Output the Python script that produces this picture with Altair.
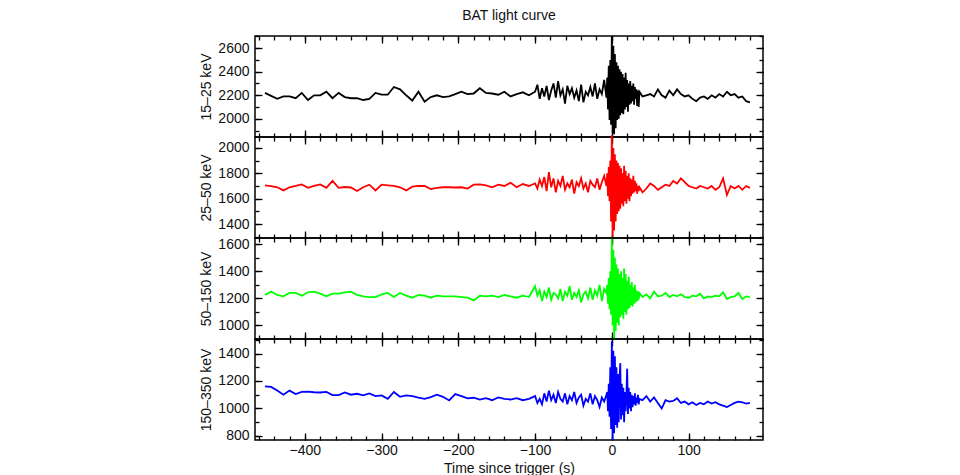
import altair as alt
import pandas as pd

# ---- time bins (s since trigger) ----
time_pre = [-452, -444, -436, -428, -420, -412, -404, -396, -388, -380, -372, -364, -356, -348,
            -340, -332, -324, -316, -308, -300, -292, -284, -276, -268, -260, -252, -244, -236,
            -228, -220, -212, -204, -196, -188, -180, -172, -164, -156, -148, -140, -132, -124,
            -116, -108]
time_rise = [-100, -97, -94, -91, -88, -85, -82, -79, -76, -73, -70, -67, -64, -61, -58, -55,
             -52, -49, -46, -43, -40, -37, -34, -31, -28, -25, -22, -19, -16, -13, -10, -7]
time_burst = [-6, -5, -4, -3, -2, -1, 0, 1, 2, 3, 4, 5, 6, 7, 8, 9, 10, 11, 12, 13, 14, 15, 16,
              17, 18, 19, 20, 21, 22, 23, 24, 25, 26, 27, 28, 29, 30, 31, 32, 33, 34, 35, 36]
time_post = [40, 45, 50, 55, 60, 65, 70, 75, 80, 85, 90, 95, 100, 105, 110, 115, 120, 125, 130,
             135, 140, 145, 150, 155, 160, 165, 170, 175, 180]

# ---- 15-25 keV ----
band1_pre = [2220, 2195, 2170, 2190, 2190, 2175, 2220, 2160, 2200, 2200, 2230, 2175, 2220, 2185,
             2175, 2175, 2160, 2170, 2220, 2205, 2205, 2270, 2250, 2200, 2155, 2230, 2145, 2185,
             2200, 2185, 2190, 2210, 2230, 2210, 2215, 2260, 2220, 2215, 2205, 2230, 2190, 2210,
             2225, 2200]
band1_rise = [2230, 2290, 2170, 2260, 2190, 2280, 2160, 2240, 2300, 2180, 2320, 2200, 2250, 2130,
              2280, 2210, 2260, 2180, 2240, 2150, 2290, 2140, 2230, 2200, 2270, 2190, 2300, 2170,
              2250, 2210, 2330, 2180]
band1_burst = [2350, 2080, 2450, 1990, 2500, 1950, 2700, 1880, 2620, 1870, 2550, 1920, 2480, 1990,
               2450, 2000, 2420, 2030, 2400, 2050, 2380, 2040, 2350, 2080, 2390, 2100, 2330, 2060,
               2300, 2120, 2320, 2130, 2280, 2150, 2300, 2120, 2270, 2170, 2250, 2110, 2240, 2100,
               2230]
band1_post = [2190, 2200, 2210, 2190, 2250, 2200, 2180, 2240, 2200, 2250, 2210, 2190, 2200, 2170,
              2150, 2180, 2190, 2170, 2200, 2180, 2210, 2190, 2230, 2200, 2210, 2180, 2190, 2150,
              2140]

# ---- 25-50 keV ----
band2_pre = [1705, 1698, 1690, 1665, 1690, 1700, 1712, 1685, 1700, 1712, 1685, 1740, 1685, 1692,
             1688, 1660, 1690, 1710, 1665, 1710, 1705, 1700, 1690, 1665, 1695, 1700, 1700, 1675,
             1685, 1690, 1690, 1688, 1690, 1680, 1710, 1712, 1705, 1690, 1710, 1700, 1725, 1690,
             1715, 1700]
band2_rise = [1720, 1680, 1750, 1700, 1770, 1660, 1810, 1690, 1760, 1650, 1740, 1700, 1780, 1670,
              1720, 1690, 1750, 1640, 1730, 1700, 1760, 1680, 1720, 1650, 1740, 1710, 1690, 1760,
              1670, 1730, 1780, 1700]
band2_burst = [1800, 1620, 1850, 1580, 1900, 1420, 2100, 1300, 2000, 1350, 1950, 1420, 1900, 1480,
               1880, 1500, 1860, 1520, 1840, 1560, 1800, 1540, 1860, 1580, 1820, 1560, 1780, 1600,
               1800, 1580, 1760, 1620, 1750, 1640, 1780, 1650, 1740, 1660, 1720, 1640, 1700, 1660,
               1690]
band2_post = [1650, 1680, 1720, 1700, 1670, 1690, 1710, 1700, 1740, 1720, 1760, 1730, 1700, 1690,
              1680, 1700, 1690, 1680, 1700, 1670, 1690, 1760, 1630, 1700, 1680, 1700, 1670, 1700,
              1685]

# ---- 50-150 keV ----
band3_pre = [1225, 1250, 1225, 1215, 1240, 1240, 1220, 1245, 1250, 1235, 1215, 1235, 1235, 1245,
             1250, 1225, 1215, 1210, 1210, 1230, 1240, 1210, 1240, 1220, 1205, 1225, 1220, 1205,
             1220, 1215, 1215, 1215, 1210, 1205, 1185, 1220, 1215, 1220, 1210, 1225, 1215, 1205,
             1220, 1210]
band3_rise = [1290, 1220, 1260, 1180, 1250, 1210, 1280, 1190, 1240, 1230, 1200, 1270, 1180, 1250,
              1220, 1290, 1190, 1240, 1210, 1260, 1170, 1230, 1250, 1200, 1280, 1190, 1260, 1220,
              1300, 1180, 1270, 1240]
band3_burst = [1300, 1160, 1350, 1120, 1400, 1080, 1640, 1000, 1560, 895, 1500, 960, 1450, 1020,
               1420, 1000, 1380, 1060, 1400, 1080, 1350, 1050, 1420, 1100, 1380, 1080, 1330, 1120,
               1360, 1130, 1300, 1150, 1320, 1140, 1280, 1160, 1300, 1170, 1260, 1180, 1250, 1190,
               1240]
band3_post = [1210, 1230, 1200, 1250, 1215, 1220, 1240, 1210, 1225, 1215, 1230, 1210, 1205, 1220,
              1215, 1235, 1200, 1215, 1210, 1220, 1215, 1245, 1195, 1210, 1215, 1240, 1195, 1215,
              1210]

# ---- 150-350 keV ----
band4_pre = [1161, 1157, 1130, 1100, 1130, 1105, 1120, 1122, 1118, 1116, 1120, 1097, 1097, 1117,
             1100, 1107, 1096, 1110, 1090, 1095, 1070, 1120, 1085, 1095, 1090, 1078, 1070, 1082,
             1100, 1085, 1058, 1105, 1090, 1073, 1078, 1065, 1075, 1060, 1080, 1070, 1065, 1075,
             1060, 1070]
band4_rise = [1090, 1040, 1070, 1030, 1110, 1050, 1130, 1060, 1100, 1040, 1120, 1070, 1050, 1110,
              1030, 1090, 1060, 1120, 1040, 1080, 1100, 1020, 1070, 1050, 1110, 1030, 1090, 1060,
              1010, 1080, 1050, 1100]
band4_burst = [1120, 980, 1180, 940, 1300, 850, 1490, 770, 1420, 820, 1380, 880, 1300, 860,
               1250, 900, 1200, 1330, 920, 1180, 950, 1150, 900, 1120, 980, 1100, 1290, 960,
               1150, 1000, 1120, 980, 1100, 1010, 1090, 1030, 1110, 1020, 1080, 1040, 1100, 1030,
               1070]
band4_post = [1060, 1090, 1050, 1080, 1040, 1000, 1060, 1050, 1055, 1075, 1040, 1050, 1030, 1045,
              1025, 1040, 1030, 1050, 1035, 1045, 1030, 1020, 1010, 1025, 1040, 1050, 1045, 1035,
              1040]

band_labels = ["15–25 keV", "25–50 keV", "50–150 keV", "150–350 keV"]
band_colors = ["#000000", "#ff0000", "#00ff00", "#0000ff"]
band_domains = [[1846, 2703], [1290, 2086], [900, 1646], [770, 1506]]
y_major = [[2000, 2200, 2400, 2600], [1400, 1600, 1800, 2000],
           [1000, 1200, 1400, 1600], [800, 1000, 1200, 1400]]
y_minor = [[1900, 2000, 2100, 2200, 2300, 2400, 2500, 2600, 2700],
           [1300, 1400, 1500, 1600, 1700, 1800, 1900, 2000],
           [900, 1000, 1100, 1200, 1300, 1400, 1500, 1600],
           [800, 900, 1000, 1100, 1200, 1300, 1400, 1500]]
x_domain = [-465, 197]
x_major = [-400, -300, -200, -100, 0, 100]
x_minor = [-460, -440, -420, -400, -380, -360, -340, -320, -300, -280, -260, -240, -220, -200,
           -180, -160, -140, -120, -100, -80, -60, -40, -20, 0, 20, 40, 60, 80, 100, 120, 140,
           160, 180]

time_s = time_pre + time_rise + time_burst + time_post
bands = [
    band1_pre + band1_rise + band1_burst + band1_post,
    band2_pre + band2_rise + band2_burst + band2_post,
    band3_pre + band3_rise + band3_burst + band3_post,
    band4_pre + band4_rise + band4_burst + band4_post,
]

FONT = "Liberation Sans"
MAJ = 7
MIN = 4
PANEL_W = 508
PANEL_H = 101


def ax(orient, values, size, labels=False, title=None, pad=4):
    kw = dict(orient=orient, values=values, tickSize=size, offset=-size, domain=False,
              grid=False, labels=labels, tickColor="black", tickWidth=1.3,
              labelFont=FONT, labelFontSize=14, labelColor="#111111", labelPadding=pad,
              titleFont=FONT, titleFontSize=14, titleFontWeight="normal",
              titleColor="#111111", title=title, format="d", minExtent=0)
    if not labels:
        kw["maxExtent"] = 0
    return alt.Axis(**kw)


panels = []
for i in range(4):
    df = pd.DataFrame({"t": time_s, "rate": bands[i]})
    xs = alt.Scale(domain=x_domain, nice=False, zero=False)
    ys = alt.Scale(domain=band_domains[i], nice=False, zero=False)
    last = i == 3
    base = alt.Chart(df)
    line = base.mark_line(color=band_colors[i], strokeWidth=1.8).encode(
        x=alt.X("t:Q", scale=xs,
                axis=ax("bottom", x_major, MAJ, labels=last,
                        title="Time since trigger (s)" if last else None, pad=3)),
        y=alt.Y("rate:Q", scale=ys,
                axis=ax("left", y_major[i], MAJ, labels=True, title=band_labels[i], pad=6)),
    )
    l2 = base.mark_line(strokeOpacity=0).encode(
        x=alt.X("t:Q", scale=xs, axis=ax("bottom", x_minor, MIN)),
        y=alt.Y("rate:Q", scale=ys, axis=ax("left", y_minor[i], MIN)),
    )
    l3 = base.mark_line(strokeOpacity=0).encode(
        x=alt.X("t:Q", scale=xs, axis=ax("top", x_major, MAJ)),
        y=alt.Y("rate:Q", scale=ys, axis=ax("right", y_major[i], MAJ)),
    )
    l4 = base.mark_line(strokeOpacity=0).encode(
        x=alt.X("t:Q", scale=xs, axis=ax("top", x_minor, MIN)),
        y=alt.Y("rate:Q", scale=ys, axis=ax("right", y_minor[i], MIN)),
    )
    props = dict(width=PANEL_W, height=PANEL_H)
    if i == 0:
        props["title"] = alt.TitleParams("BAT light curve", font=FONT, fontSize=14,
                                         fontWeight="normal", color="#111111",
                                         anchor="middle", frame="group", offset=10)
    p = alt.layer(line, l2, l3, l4).resolve_axis(x="independent", y="independent").properties(**props)
    panels.append(p)

chart = alt.vconcat(*panels, spacing=0, bounds="flush").properties(
    padding={"left": 191, "top": 0, "right": 5, "bottom": 0},
    background="white",
).configure_view(stroke="black", strokeWidth=1.5)

chart.save("out.html", embed_options={"renderer": "svg", "actions": False})
